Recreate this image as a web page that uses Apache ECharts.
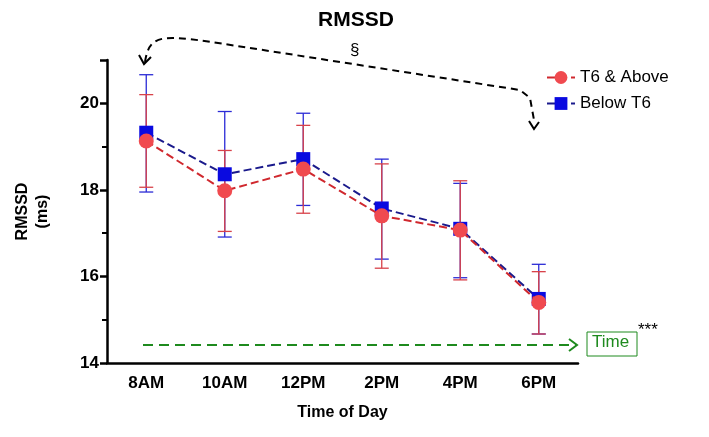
<!DOCTYPE html>
<html><head><meta charset="utf-8">
<script src="https://cdn.jsdelivr.net/npm/echarts@6/dist/echarts.min.js"></script>
<style>html,body{margin:0;background:#fff}#c{width:709px;height:437px}</style>
</head><body><div id="c"></div>
<script>
var categories = ['8AM', '10AM', '12PM', '2PM', '4PM', '6PM'];
var aboveMean = [19.13, 17.98, 18.48, 17.40, 17.07, 15.40];
var aboveLow = [18.06, 17.04, 17.46, 16.19, 15.92, 14.67];
var aboveHigh = [20.20, 18.91, 19.49, 18.60, 18.21, 16.11];
var belowMean = [19.32, 18.36, 18.71, 17.57, 17.10, 15.48];
var belowLow = [17.95, 16.91, 17.64, 16.40, 15.97, 14.67];
var belowHigh = [20.66, 19.81, 19.77, 18.71, 18.15, 16.28];

var F = 'Liberation Sans, Arial, sans-serif';
var chart = echarts.init(document.getElementById('c'));

function errData(lo, hi) {
  var d = [];
  for (var i = 0; i < lo.length; i++) d.push([i, lo[i], hi[i]]);
  return d;
}
function errSeries(lo, hi, color) {
  return {
    type: 'custom', silent: true, z: 2,
    data: errData(lo, hi),
    renderItem: function (params, api) {
      var a = api.coord([api.value(0), api.value(1)]);
      var b = api.coord([api.value(0), api.value(2)]);
      var w = 7;
      var st = { stroke: color, lineWidth: 1.3 };
      return { type: 'group', children: [
        { type: 'line', shape: { x1: a[0], y1: a[1], x2: b[0], y2: b[1] }, style: st },
        { type: 'line', shape: { x1: a[0] - w, y1: a[1], x2: a[0] + w, y2: a[1] }, style: st },
        { type: 'line', shape: { x1: b[0] - w, y1: b[1], x2: b[0] + w, y2: b[1] }, style: st }
      ]};
    }
  };
}

chart.setOption({
  animation: false,
  title: { text: 'RMSSD', left: 313, top: 5, textStyle: { fontFamily: F, fontSize: 21, fontWeight: 'bold', color: '#000' } },
  legend: {
    orient: 'vertical', left: 541, top: 64, itemGap: 9, itemWidth: 28, itemHeight: 16,
    data: ['T6 & Above', 'Below T6'],
    textStyle: { fontFamily: F, fontSize: 17, color: '#000' }
  },
  grid: { left: 107, right: 131, top: 60, bottom: 74 },
  xAxis: {
    type: 'category', data: categories, boundaryGap: true,
    name: 'Time of Day', nameLocation: 'middle', nameGap: 42,
    nameTextStyle: { fontFamily: F, fontSize: 16, fontWeight: 'bold', color: '#000' },
    axisLine: { lineStyle: { color: '#000', width: 2.5 } },
    axisTick: { alignWithLabel: true, length: 6, lineStyle: { width: 2.5 } },
    axisLabel: { fontFamily: F, fontSize: 17, fontWeight: 'bold', color: '#000', margin: 12 }
  },
  yAxis: {
    type: 'value', min: 14, max: 21, interval: 2,
    name: 'RMSSD\n(ms)', nameLocation: 'middle', nameRotate: 90, nameGap: 54,
    nameTextStyle: { fontFamily: F, fontSize: 16, fontWeight: 'bold', color: '#000', lineHeight: 20 },
    axisLine: { show: true, lineStyle: { color: '#000', width: 2.5 } },
    axisTick: { show: true, length: 7, lineStyle: { width: 2.5 } },
    minorTick: { show: true, splitNumber: 2, length: 5, lineStyle: { color: '#000', width: 2 } },
    splitLine: { show: false },
    axisLabel: { fontFamily: F, fontSize: 17, fontWeight: 'bold', color: '#000', showMaxLabel: false }
  },
  series: [
    errSeries(belowLow, belowHigh, '#2b2bd6'),
    errSeries(aboveLow, aboveHigh, '#d8424a'),
    {
      name: 'Below T6', type: 'line', data: belowMean, z: 3,
      symbol: 'rect', symbolSize: 14,
      itemStyle: { color: '#0a0ae0' },
      lineStyle: { color: '#1a1a8c', type: 'dashed', width: 2 }
    },
    {
      name: 'T6 & Above', type: 'line', data: aboveMean, z: 4,
      symbol: 'circle', symbolSize: 15,
      itemStyle: { color: '#f04a4f' },
      lineStyle: { color: '#d0282e', type: 'dashed', width: 2 }
    }
  ],
  graphic: [
    { type: 'bezierCurve', shape: { x1: 145, y1: 62, cpx1: 150, cpy1: 30, cpx2: 165, cpy2: 35, x2: 250, y2: 48 },
      style: { stroke: '#000', lineWidth: 2, lineDash: [7, 5], fill: null } },
    { type: 'polyline', shape: { points: [[250, 48], [520, 90], [530, 98], [534, 120]] },
      style: { stroke: '#000', lineWidth: 2, lineDash: [7, 5], fill: null } },
    { type: 'polyline', shape: { points: [[139, 55], [144, 64], [151, 57]] }, style: { stroke: '#000', lineWidth: 2, fill: null } },
    { type: 'polyline', shape: { points: [[529, 121], [534, 129], [539, 122]] }, style: { stroke: '#000', lineWidth: 2, fill: null } },
    { type: 'text', left: 350, top: 42, style: { text: '§', font: '17px Liberation Sans', fill: '#000' } },
    { type: 'line', shape: { x1: 143, y1: 345, x2: 576, y2: 345 },
      style: { stroke: '#1e8a1e', lineWidth: 2, lineDash: [10, 6] } },
    { type: 'polyline', shape: { points: [[569, 339], [577, 345], [569, 351]] }, style: { stroke: '#1e8a1e', lineWidth: 2, fill: null } },
    { type: 'rect', shape: { x: 587, y: 332, width: 50, height: 24 }, style: { fill: '#fff', stroke: '#1e8a1e', lineWidth: 1 } },
    { type: 'text', left: 592, top: 334, style: { text: 'Time', font: '17px Liberation Sans', fill: '#1e8a1e' } },
    { type: 'text', left: 638, top: 322, style: { text: '***', font: '17px Liberation Sans', fill: '#000' } }
  ]
});
</script></body></html>
